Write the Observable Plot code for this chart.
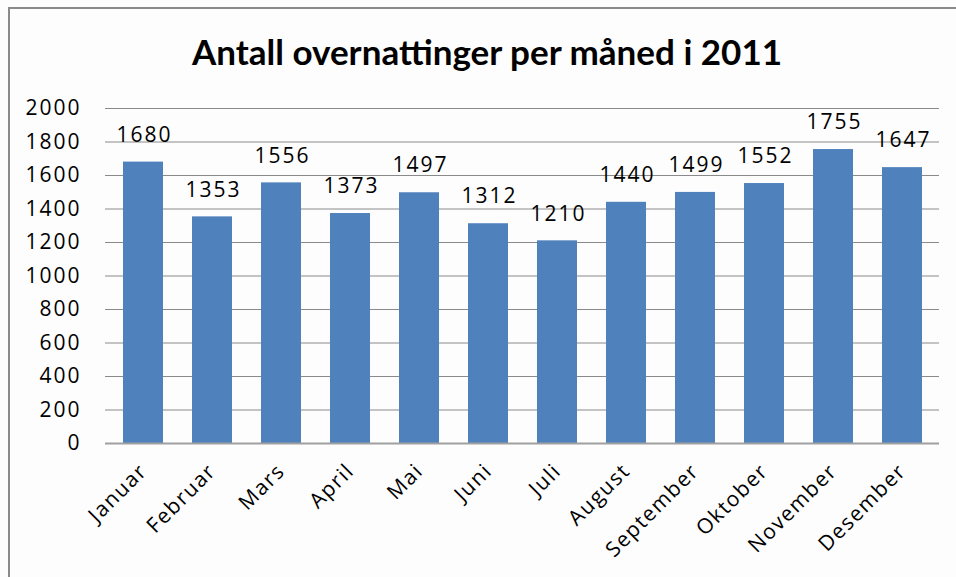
<!DOCTYPE html>
<html>
<head>
<meta charset="utf-8">
<script src="https://cdn.jsdelivr.net/npm/d3@7"></script>
<script src="https://cdn.jsdelivr.net/npm/@observablehq/plot@0.6"></script>
<style>
  html, body { margin: 0; padding: 0; background: #fdfdfd; }
  #wrap { position: relative; width: 956px; height: 577px; overflow: hidden; background: #fdfdfd; }
  #frame { position: absolute; left: 8px; top: 7px; width: 1000px; height: 1000px;
           border-top: 2px solid #8a8a8a; border-left: 2px solid #8a8a8a; }
  #title { position: absolute; left: 0; top: 0; width: 974px; height: 95px; text-align: center;
           font-family: Lato, sans-serif; font-weight: bold; font-size: 35px; line-height: 102px; color: #000; }
  #chart { position: absolute; left: 0; top: 95px; }
  #chart svg { overflow: visible; }
  #chart svg text { letter-spacing: 2px; }
  #chart g[aria-label="x-axis tick label"] text { letter-spacing: 1.5px; }
</style>
</head>
<body>
<div id="wrap">
  <div id="frame"></div>
  <div id="title">Antall overnattinger per måned i 2011</div>
  <div id="chart"></div>
</div>
<script>
const months = ["Januar","Februar","Mars","April","Mai","Juni","Juli","August","September","Oktober","November","Desember"];
const values = [1680,1353,1556,1373,1497,1312,1210,1440,1499,1552,1755,1647];
const yTicks = [0,200,400,600,800,1000,1200,1400,1600,1800,2000];

const data = months.map((m, i) => ({month: m, value: values[i]}));
const font = "'Open Sans', sans-serif";

const plot = Plot.plot({
  width: 956,
  height: 482,
  marginLeft: 105,
  marginRight: 17,
  marginTop: 13,
  marginBottom: 134,
  style: {background: "transparent", fontFamily: font, fontSize: "21px", color: "#000"},
  x: {domain: months, paddingInner: 0.425, paddingOuter: 0.215, label: null},
  y: {domain: [0, 2000], label: null},
  marks: [
    Plot.ruleY(yTicks.filter(d => d > 0), {stroke: "#8a8a8a", strokeWidth: 1}),
    Plot.axisY({ticks: yTicks, tickSize: 0, tickPadding: 24, tickFormat: d => String(d), fontSize: 21, label: null}),
    Plot.barY(data, {x: "month", y: "value", fill: "#4f81bd"}),
    Plot.ruleY([0], {stroke: "#a0a0a0", strokeWidth: 2}),
    Plot.text(data, {x: "month", y: "value", text: d => String(d.value), dy: -27, dx: 1, lineAnchor: "middle", fontSize: 21, fill: "#000"}),
    Plot.axisX({tickSize: 0, tickRotate: -45, tickPadding: 24, dx: 0, fontSize: 21, label: null})
  ]
});
document.getElementById("chart").appendChild(plot);
</script>
</body>
</html>
